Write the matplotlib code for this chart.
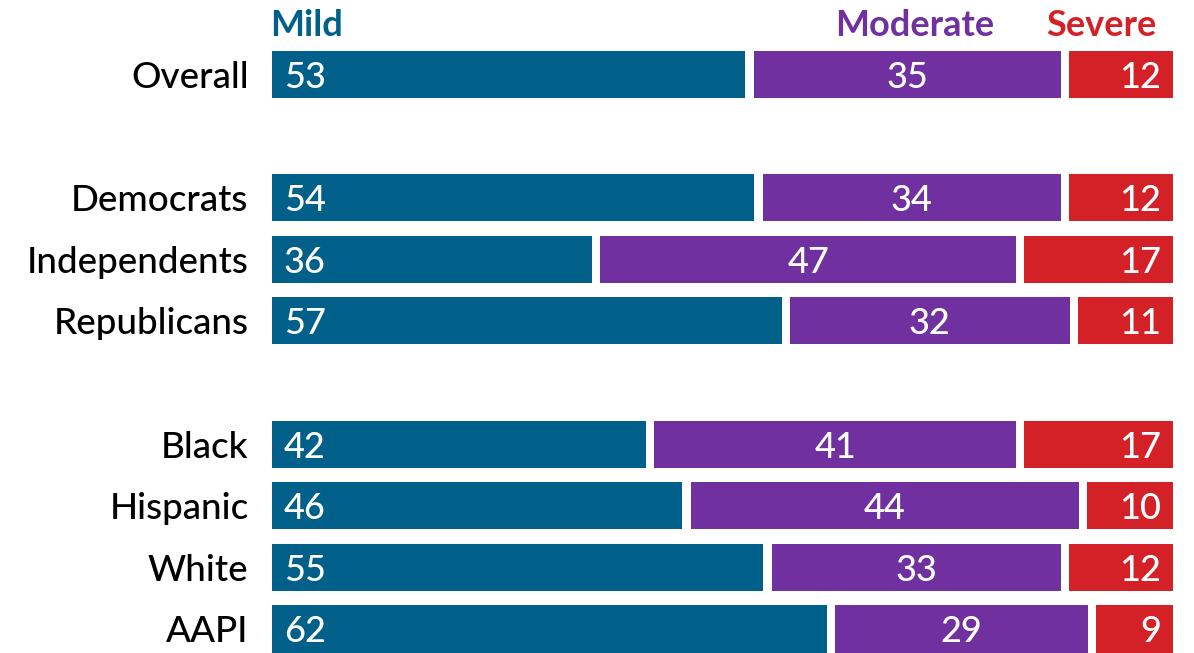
import numpy as np
import matplotlib.pyplot as plt

plt.rcParams['font.family'] = ['Lato', 'DejaVu Sans']

# data
groups = [["Overall"],
          ["Democrats", "Independents", "Republicans"],
          ["Black", "Hispanic", "White", "AAPI"]]
mild = [53, 54, 36, 57, 42, 46, 55, 62]
moderate = [35, 34, 47, 32, 41, 44, 33, 29]
severe = [12, 12, 17, 11, 17, 10, 12, 9]
series = ["Mild", "Moderate", "Severe"]
colors = ["#00608A", "#7030A0", "#D42128"]

# row positions: one empty row between groups
labels, ypos = [], []
y = 0
for g in groups:
    for name in g:
        labels.append(name)
        ypos.append(y)
        y += 1
    y += 1
ypos = np.array(ypos)

fig = plt.figure(figsize=(11.94, 6.53), dpi=100)
ax = fig.add_axes([272 / 1194, -0.0104, 901 / 1194, 0.9435])

gap = 0.9
vals = np.array([mild, moderate, severe])
left = np.zeros(len(labels))
for i, (v, c) in enumerate(zip(vals, colors)):
    l0 = left + (gap / 2 if i > 0 else 0)
    w = v - (gap / 2 if i > 0 else 0) - (gap / 2 if i < 2 else 0)
    ax.barh(ypos, w, left=l0, height=0.765, color=c)
    for y_, lv, vv in zip(ypos, left, v):
        if i == 0:
            ax.text(lv + 1.3, y_, str(vv), ha='left', va='center_baseline',
                    color='white', fontsize=26, fontweight='medium')
        elif i == 1:
            ax.text(lv + vv / 2, y_, str(vv), ha='center', va='center_baseline',
                    color='white', fontsize=26, fontweight='medium')
        else:
            ax.text(lv + vv - 1.3, y_, str(vv), ha='right', va='center_baseline',
                    color='white', fontsize=26, fontweight='medium')
    left = left + v

# row labels
for y_, name in zip(ypos, labels):
    ax.text(-2.6, y_, name, ha='right', va='center_baseline',
            color='black', fontsize=26.5, fontweight='medium')

# column headers
hy = -0.85
ax.text(-0.2, hy, series[0], ha='left', va='center_baseline', color=colors[0],
        fontsize=26, fontweight='bold')
ax.text(71.3, hy, series[1], ha='center', va='center_baseline', color=colors[1],
        fontsize=26, fontweight='bold')
ax.text(98.2, hy, series[2], ha='right', va='center_baseline', color=colors[2],
        fontsize=26, fontweight='bold')

ax.set_xlim(0, 100)
ax.set_ylim(9.5, -0.5)
ax.axis('off')

fig.savefig('out.png', dpi=100)
